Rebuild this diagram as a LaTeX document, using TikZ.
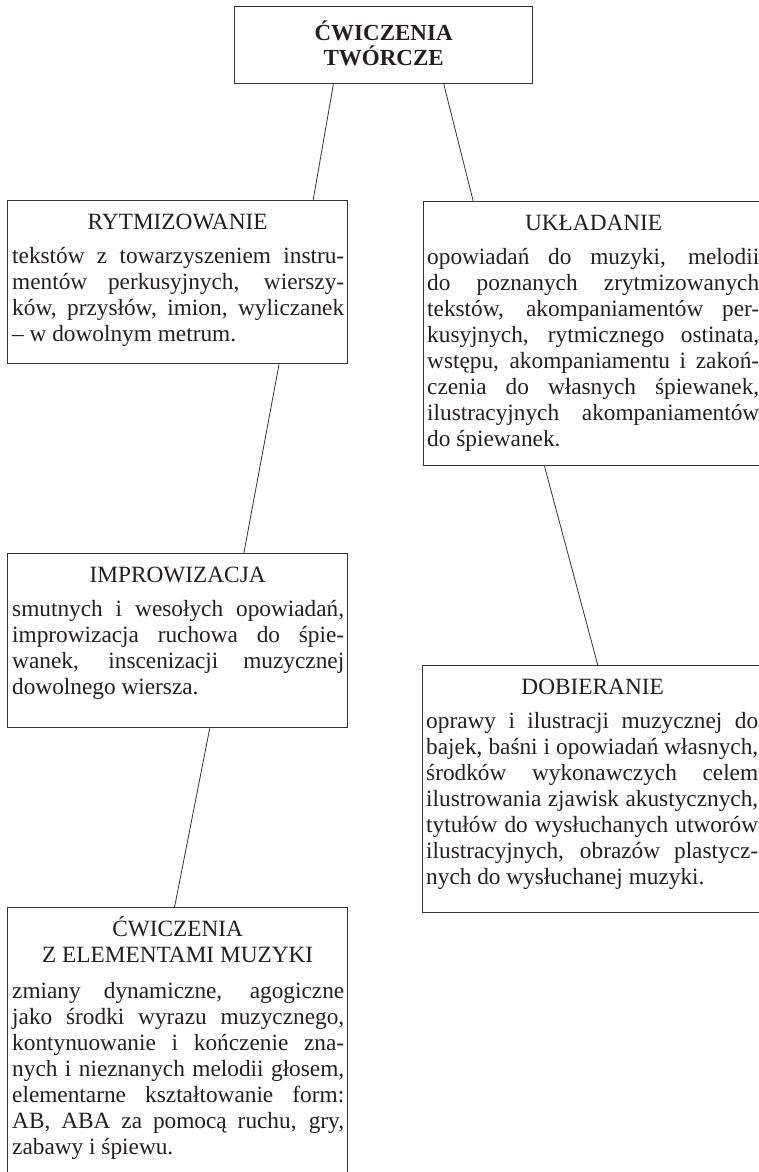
\documentclass[tikz,border=0pt]{standalone}
\usepackage{fontspec}
\setmainfont{Liberation Serif}
\usetikzlibrary{calc}
\definecolor{ink}{HTML}{231F20}
\definecolor{frame}{HTML}{333333}
\tikzset{
  x=1pt, y=1pt,
  box/.style={draw=frame, line width=1.3pt, anchor=north west, inner sep=0pt, minimum width=340pt},
  head/.style={anchor=base, inner sep=0pt, font=\fontsize{23.3}{26}\selectfont, text=ink, align=center},
  toptitle/.style={head, font=\fontsize{23}{25}\selectfont\bfseries},
  body/.style={anchor=base west, inner sep=0pt, text width=332pt, align=justify,
    font=\fontsize{23.3}{26}\selectfont, text=ink,
    execute at begin node={\tolerance=10000 \hbadness=10000 \hyphenpenalty=10000 }},
  link/.style={draw=frame, line width=0.8pt},
}
\begin{document}
\begin{tikzpicture}
\useasboundingbox (0,0) rectangle (758,-1172);
\fill[white] (0,0) rectangle (758,-1172);

% boxes
\node[box, minimum width=298pt, minimum height=77pt] (top) at (234,-6) {};
\node[box, minimum height=163pt] (ryt) at (7,-200) {};
\node[box, minimum height=264pt] (ukl) at (423,-201) {};
\node[box, minimum height=174pt] (imp) at (7,-553) {};
\node[box, minimum height=247pt] (dob) at (422,-665) {};
\node[box, minimum height=290pt] (cwe) at (7,-907) {};

% top title (anchor base sits on the last line)
\node[toptitle] (topH) at ($(top.north)+(0,-60)$) {ĆWICZENIA\\TWÓRCZE};

% RYTMIZOWANIE
\node[head] (rytH) at ($(ryt.north)+(0,-29)$) {RYTMIZOWANIE};
\node[body] (rytB) at ($(ryt.north west)+(5,-63)$) {tekstów z towarzyszeniem instru-\linebreak
mentów perkusyjnych, wierszy-\linebreak
ków, przysłów, imion, wyliczanek\linebreak
– w dowolnym metrum.};

% UKŁADANIE
\node[head] (uklH) at ($(ukl.north)+(0,-29)$) {UKŁADANIE};
\node[body] (uklB) at ($(ukl.north west)+(4,-63)$) {opowiadań do muzyki, melodii\linebreak
do poznanych zrytmizowanych\linebreak
tekstów, akompaniamentów per-\linebreak
kusyjnych, rytmicznego ostinata,\linebreak
wstępu, akompaniamentu i zakoń-\linebreak
czenia do własnych śpiewanek,\linebreak
ilustracyjnych akompaniamentów\linebreak
do śpiewanek.};

% IMPROWIZACJA
\node[head] (impH) at ($(imp.north)+(0,-29)$) {IMPROWIZACJA};
\node[body] (impB) at ($(imp.north west)+(5,-63)$) {smutnych i wesołych opowiadań,\linebreak
improwizacja ruchowa do śpie-\linebreak
wanek, inscenizacji muzycznej\linebreak
dowolnego wiersza.};

% DOBIERANIE
\node[head] (dobH) at ($(dob.north)+(0,-29)$) {DOBIERANIE};
\node[body] (dobB) at ($(dob.north west)+(4,-63)$) {oprawy i ilustracji muzycznej do\linebreak
bajek, baśni i opowiadań własnych,\linebreak
środków wykonawczych celem\linebreak
ilustrowania zjawisk akustycznych,\linebreak
tytułów do wysłuchanych utworów\linebreak
ilustracyjnych, obrazów plastycz-\linebreak
nych do wysłuchanej muzyki.};

% ĆWICZENIA Z ELEMENTAMI MUZYKI
\node[head] (cweH) at ($(cwe.north)+(0,-55)$) {ĆWICZENIA\\Z ELEMENTAMI MUZYKI};
\node[body] (cweB) at ($(cwe.north west)+(5,-91)$) {zmiany dynamiczne, agogiczne\linebreak
jako środki wyrazu muzycznego,\linebreak
kontynuowanie i kończenie zna-\linebreak
nych i nieznanych melodii głosem,\linebreak
elementarne kształtowanie form:\linebreak
AB, ABA za pomocą ruchu, gry,\linebreak
zabawy i śpiewu.};

% connectors
\draw[link] ($(top.south west)!0.332!(top.south east)$) -- ($(ryt.north west)!0.897!(ryt.north east)$);
\draw[link] ($(top.south west)!0.701!(top.south east)$) -- ($(ukl.north west)!0.147!(ukl.north east)$);
\draw[link] ($(ryt.south west)!0.797!(ryt.south east)$) -- ($(imp.north west)!0.694!(imp.north east)$);
\draw[link] ($(imp.south west)!0.594!(imp.south east)$) -- ($(cwe.north west)!0.491!(cwe.north east)$);
\draw[link] ($(ukl.south west)!0.356!(ukl.south east)$) -- ($(dob.north west)!0.515!(dob.north east)$);
\end{tikzpicture}
\end{document}
